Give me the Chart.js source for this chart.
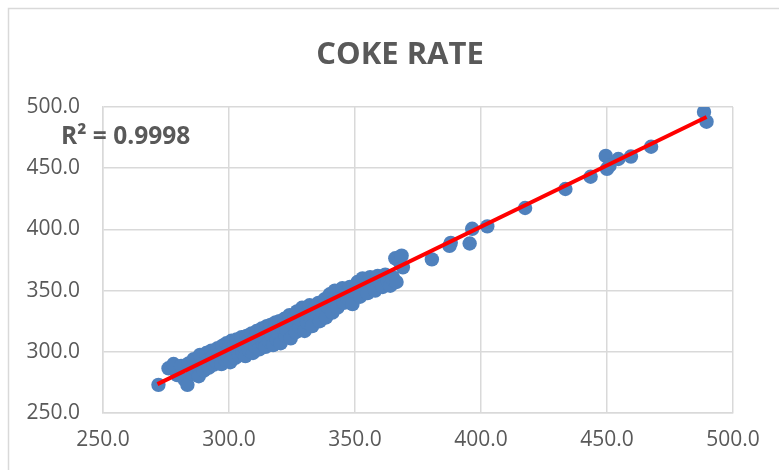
<!DOCTYPE html>
<html>
<head>
<meta charset="utf-8">
<script src="https://cdn.jsdelivr.net/npm/chart.js@4"></script>
<style>
  html, body { margin: 0; padding: 0; background: #fff; }
  #wrap { width: 779px; height: 470px; }
</style>
</head>
<body>
<div id="wrap"><canvas id="coke" width="779" height="470"></canvas></div>
<script>
// Datos: eje X (valor calculado) y eje Y (valor real) de coke rate
var xValues = [
  272.0, 276.0, 278.0, 279.5, 281.0, 282.5, 283.5, 284.0, 285.5, 286.0,
  287.0, 288.0, 288.5, 289.5, 290.0, 291.0, 291.5, 292.0, 293.0, 293.5,
  294.0, 295.0, 295.5, 296.0, 297.0, 297.5, 298.0, 298.5, 299.0, 299.5,
  300.0, 300.5, 301.0, 301.5, 302.0, 302.5, 303.0, 303.5, 304.0, 304.5,
  305.0, 305.5, 306.0, 306.5, 307.0, 307.5, 308.0, 308.5, 309.0, 309.5,
  310.0, 310.5, 311.0, 311.5, 312.0, 312.5, 313.0, 313.5, 314.0, 314.5,
  315.0, 315.5, 316.0, 316.5, 317.0, 317.5, 318.0, 318.5, 319.0, 319.5,
  320.0, 320.5, 321.0, 322.0, 322.5, 323.0, 324.0, 324.5, 325.0, 326.0,
  326.5, 327.0, 328.0, 328.5, 329.0, 330.0, 330.5, 331.0, 332.0, 332.5,
  333.0, 334.0, 335.0, 335.5, 336.0, 337.0, 338.0, 338.5, 339.0, 340.0,
  341.0, 341.5, 342.0, 343.0, 344.0, 345.0, 345.5, 346.0, 347.0, 348.0,
  349.0, 350.0, 351.0, 352.0, 353.0, 354.0, 355.0, 356.0, 357.0, 358.0,
  359.0, 360.0, 361.0, 362.0, 363.0, 364.0, 365.0, 365.2, 366.0, 366.5,
  367.5, 368.5, 369.0, 380.5, 387.5, 388.0, 395.5, 396.5, 402.5, 417.5,
  433.5, 443.5, 449.5, 450.0, 451.0, 454.5, 459.5, 467.5, 488.5, 489.5
];
var yValues = [
  273.0, 286.5, 290.0, 281.0, 288.5, 277.0, 273.0, 290.5, 282.0, 294.0,
  285.0, 280.0, 297.5, 290.0, 284.5, 299.0, 293.0, 287.0, 301.0, 296.0,
  289.5, 292.0, 303.0, 298.0, 290.0, 305.0, 300.0, 293.5, 307.0, 296.0,
  303.5, 291.5, 309.0, 299.0, 305.0, 295.0, 310.0, 301.0, 297.0, 307.0,
  312.0, 299.5, 304.0, 296.5, 313.0, 309.0, 301.0, 306.0, 315.0, 299.0,
  311.0, 304.0, 317.0, 308.0, 302.0, 313.0, 319.0, 306.5, 311.0, 304.0,
  321.0, 316.0, 308.0, 322.0, 313.0, 305.5, 318.0, 324.0, 310.0, 315.0,
  325.0, 307.0, 320.0, 327.0, 313.0, 318.0, 330.0, 311.0, 323.0, 329.0,
  316.0, 333.0, 320.0, 326.0, 336.0, 317.0, 331.0, 324.0, 338.0, 327.0,
  321.0, 335.0, 329.0, 340.0, 325.0, 333.0, 343.0, 328.0, 337.0, 347.0,
  332.0, 341.0, 350.0, 336.0, 345.0, 352.0, 340.0, 348.0, 344.0, 353.0,
  339.0, 349.0, 357.0, 345.0, 360.0, 352.0, 348.0, 361.0, 355.0, 350.0,
  362.0, 356.0, 353.0, 363.0, 358.0, 354.0, 361.0, 358.7, 376.4, 357.0,
  374.0, 378.5, 369.0, 375.5, 386.5, 389.0, 388.5, 400.5, 402.5, 417.5,
  433.0, 443.0, 460.0, 449.5, 452.0, 457.5, 459.5, 467.5, 496.0, 488.0
];

// Línea de tendencia (extremos)
var trendX = [271.6, 489.5];
var trendY = [273.6, 491.8];

var r2Label = 'R² = 0.9998';
var chartTitle = 'COKE RATE';

var gris = '#595959';
var rejilla = '#d9d9d9';

var puntos = xValues.map(function(x, i) { return { x: x, y: yValues[i] }; });
var tendencia = trendX.map(function(x, i) { return { x: x, y: trendY[i] }; });

// Plugin para el marco, el título y la etiqueta R²
var decoracion = {
  id: 'decoracion',
  beforeDraw: function(chart) {
    var ctx = chart.ctx;
    ctx.save();
    ctx.fillStyle = '#fff';
    ctx.fillRect(0, 0, chart.width, chart.height);
    ctx.strokeStyle = rejilla;
    ctx.lineWidth = 1.5;
    ctx.strokeRect(8.5, 8.5, chart.width + 20, chart.height + 20);
    ctx.restore();
  },
  afterDraw: function(chart) {
    var ctx = chart.ctx;
    var area = chart.chartArea;
    ctx.save();
    ctx.fillStyle = gris;
    ctx.textAlign = 'center';
    ctx.textBaseline = 'alphabetic';
    ctx.font = 'bold 31px "Open Sans"';
    ctx.fillText(chartTitle, 400, 64);
    ctx.textAlign = 'left';
    ctx.font = 'bold 24.5px "Open Sans"';
    ctx.fillText(r2Label, area.left - 42, area.top + 37);
    ctx.restore();
  }
};

var ctx = document.getElementById('coke').getContext('2d');
var myCokeChart = new Chart(ctx, {
  type: 'scatter',
  data: {
    datasets: [{
      type: 'line',
      label: 'Tendencia',
      data: tendencia,
      borderColor: '#ff0000',
      borderWidth: 4,
      pointRadius: 0,
      fill: false,
      order: 0
    }, {
      label: 'Coke rate',
      data: puntos,
      backgroundColor: '#4f81bd',
      borderColor: '#4f81bd',
      borderWidth: 0,
      pointRadius: 7.2,
      order: 1
    }]
  },
  options: {
    responsive: false,
    animation: false,
    layout: { padding: { top: 107, right: 46, left: 0, bottom: 0 } },
    plugins: {
      legend: { display: false },
      tooltip: { enabled: false }
    },
    scales: {
      x: {
        type: 'linear',
        min: 250,
        max: 500,
        afterFit: function(scale) { scale.height = 57; },
        ticks: {
          stepSize: 50,
          padding: 14,
          color: gris,
          font: { family: 'Open Sans', size: 21 },
          maxRotation: 0,
          callback: function(v) { return v.toFixed(1); }
        },
        grid: { color: rejilla, lineWidth: 1.5, drawTicks: false },
        border: { color: rejilla, width: 1.5 }
      },
      y: {
        type: 'linear',
        min: 250,
        max: 500,
        afterFit: function(scale) { scale.width = 103; },
        ticks: {
          stepSize: 50,
          padding: 23,
          color: gris,
          font: { family: 'Open Sans', size: 21 },
          callback: function(v) { return v.toFixed(1); }
        },
        grid: { color: rejilla, lineWidth: 1.5, drawTicks: false },
        border: { color: rejilla, width: 1.5 }
      }
    }
  },
  plugins: [decoracion]
});
</script>
</body>
</html>
